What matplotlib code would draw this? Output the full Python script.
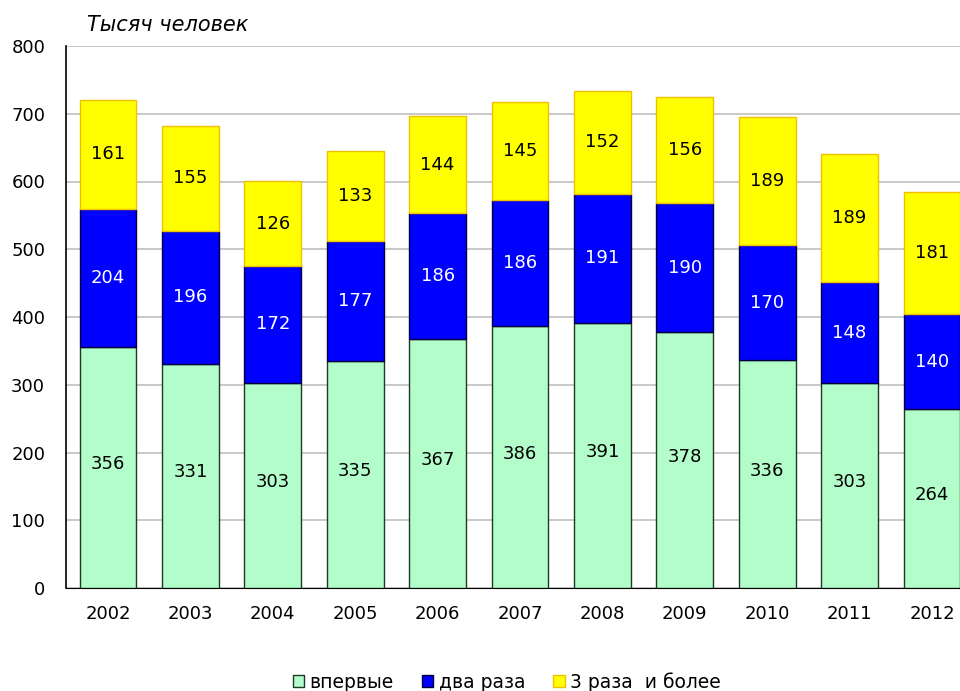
import matplotlib.pyplot as plt
import numpy as np

years = ["2002", "2003", "2004", "2005", "2006", "2007", "2008", "2009", "2010", "2011", "2012"]
first = [356, 331, 303, 335, 367, 386, 391, 378, 336, 303, 264]
twice = [204, 196, 172, 177, 186, 186, 191, 190, 170, 148, 140]
three = [161, 155, 126, 133, 144, 145, 152, 156, 189, 189, 181]
labels = ["впервые", "два раза", "3 раза  и более"]

plt.rcParams['font.family'] = ['DejaVu Sans']

fig = plt.figure(figsize=(9.6, 6.91), dpi=100)
ax = fig.add_axes([66/960, 103/691, 908/960, 542/691])

x = np.arange(len(years))
w = 0.69
f = np.array(first)
t = np.array(twice)
h = np.array(three)

b1 = ax.bar(x, f, width=w, color="#b3fdcb", edgecolor="#1e3a22", linewidth=1, label=labels[0], zorder=3)
b2 = ax.bar(x, t, bottom=f, width=w, color="#0000ff", edgecolor="#000040", linewidth=1, label=labels[1], zorder=3)
b3 = ax.bar(x, h, bottom=f + t, width=w, color="#ffff00", edgecolor="#f0c000", linewidth=1, label=labels[2], zorder=3)

for i in range(len(years)):
    ax.text(x[i], f[i] / 2 + 5, str(f[i]), ha="center", va="center", fontsize=13, color="black", zorder=4)
    ax.text(x[i], f[i] + t[i] / 2, str(t[i]), ha="center", va="center", fontsize=13, color="white", zorder=4)
    ax.text(x[i], f[i] + t[i] + h[i] / 2, str(h[i]), ha="center", va="center", fontsize=13, color="black", zorder=4)

ax.set_xlim(-0.51, len(years) - 1 + 0.51)
ax.set_ylim(0, 800)
ax.set_yticks(range(0, 801, 100))
ax.set_xticks(x)
ax.set_xticklabels(years)
ax.tick_params(axis="both", length=0, labelsize=13, colors="black")
ax.tick_params(axis="y", pad=15)
ax.tick_params(axis="x", pad=12)
ax.yaxis.grid(True, color="#c0c0c0", linewidth=1.2, zorder=0)
ax.set_axisbelow(True)
for s in ["top", "right"]:
    ax.spines[s].set_visible(False)
ax.spines["left"].set_color("black")
ax.spines["bottom"].set_color("black")
ax.spines["left"].set_linewidth(1.2)

fig.text(87/960, 1 - 25/691, "Тысяч человек", fontsize=15, style="italic", va="center", ha="left")

fig.legend(handles=[b1, b2, b3], labels=labels, loc="center", bbox_to_anchor=(0.528, 1 - 682/691),
           ncol=3, frameon=False, fontsize=13.5, handlelength=0.6, handleheight=0.6,
           handletextpad=0.3, columnspacing=1.5)

fig.savefig("out.png", dpi=100)
